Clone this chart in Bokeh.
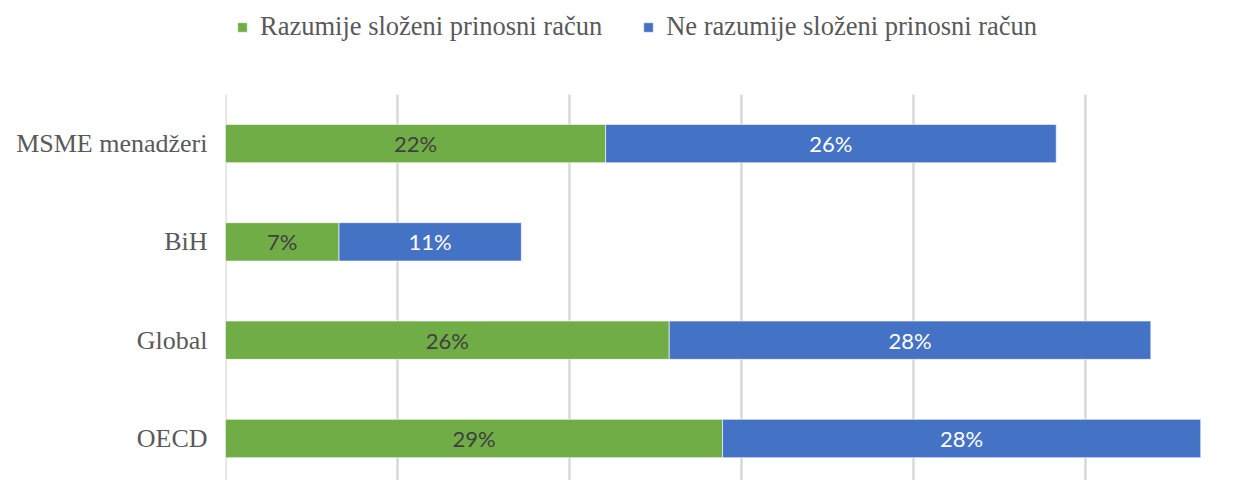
from bokeh.plotting import figure
from bokeh.models import ColumnDataSource, FixedTicker, Legend, LegendItem
from bokeh.core.properties import value
from bokeh.embed import file_html
from bokeh.resources import INLINE

categories = ["MSME menadžeri", "BiH", "Global", "OECD"]
understand = [22.1, 6.6, 25.8, 28.9]
not_understand = [26.2, 10.6, 28.0, 27.8]
understand_labels = ["22%", "7%", "26%", "29%"]
not_understand_labels = ["26%", "11%", "28%", "28%"]
series_names = ["Razumije složeni prinosni račun", "Ne razumije složeni prinosni račun"]
grid_ticks = [0, 10, 20, 30, 40, 50]

GREEN = "#70AD47"
BLUE = "#4472C4"

n = len(categories)
ypos = [n - 1 - i for i in range(n)]
right2 = [a + b for a, b in zip(understand, not_understand)]

Y0, Y1 = -0.427, 4.455
GRID_TOP = 3.5

src = ColumnDataSource(dict(
    y=ypos,
    g0=[0] * n, g1=understand, b0=understand, b1=right2,
    gmid=[v / 2 for v in understand],
    bmid=[a + b / 2 for a, b in zip(understand, not_understand)],
    glab=understand_labels, blab=not_understand_labels,
))
grid_src = ColumnDataSource(dict(x=grid_ticks, y0=[Y0] * len(grid_ticks), y1=[GRID_TOP] * len(grid_ticks)))

p = figure(width=1231, height=480, x_range=(0, 57.56), y_range=(Y0, Y1),
           output_backend="svg", toolbar_location=None,
           min_border_left=225, min_border_right=16, min_border_top=0, min_border_bottom=0)
p.outline_line_color = None
p.background_fill_color = "white"

p.segment(x0="x", x1="x", y0="y0", y1="y1", source=grid_src, line_color="#D9D9D9", line_width=2.5)

r1 = p.hbar(y="y", left="g0", right="g1", height=0.39, source=src,
            fill_color=GREEN, line_color="white", line_alpha=0.6, line_width=1)
r2 = p.hbar(y="y", left="b0", right="b1", height=0.39, source=src,
            fill_color=BLUE, line_color="white", line_alpha=0.6, line_width=1)

p.text(x="gmid", y="y", text="glab", source=src, text_align="center", text_baseline="middle",
       text_font=value("Lato"), text_font_size="22px", text_color="#404040")
p.text(x="bmid", y="y", text="blab", source=src, text_align="center", text_baseline="middle",
       text_font=value("Lato"), text_font_size="22px", text_color="white")

p.xaxis.visible = False
p.xgrid.visible = False
p.ygrid.visible = False

p.yaxis.ticker = FixedTicker(ticks=ypos)
p.yaxis.major_label_overrides = {y: c for y, c in zip(ypos, categories)}
p.yaxis.axis_line_color = None
p.yaxis.major_tick_line_color = None
p.yaxis.minor_tick_line_color = None
p.yaxis.major_tick_out = 0
p.yaxis.major_tick_in = 0
p.yaxis.major_label_standoff = 18
p.yaxis.major_label_text_font = "Liberation Serif"
p.yaxis.major_label_text_font_size = "26px"
p.yaxis.major_label_text_color = "#595959"

legend = Legend(items=[LegendItem(label=series_names[0], renderers=[r1]),
                       LegendItem(label=series_names[1], renderers=[r2])],
                orientation="horizontal", location=(11, 438),
                glyph_width=12, glyph_height=12, label_standoff=12, spacing=40,
                padding=0, margin=0, border_line_color=None, background_fill_alpha=0,
                label_text_font="Liberation Serif", label_text_font_size="26.5px",
                label_text_color="#595959")
p.add_layout(legend, "center")

open("out.html", "w").write(file_html(p, INLINE))
